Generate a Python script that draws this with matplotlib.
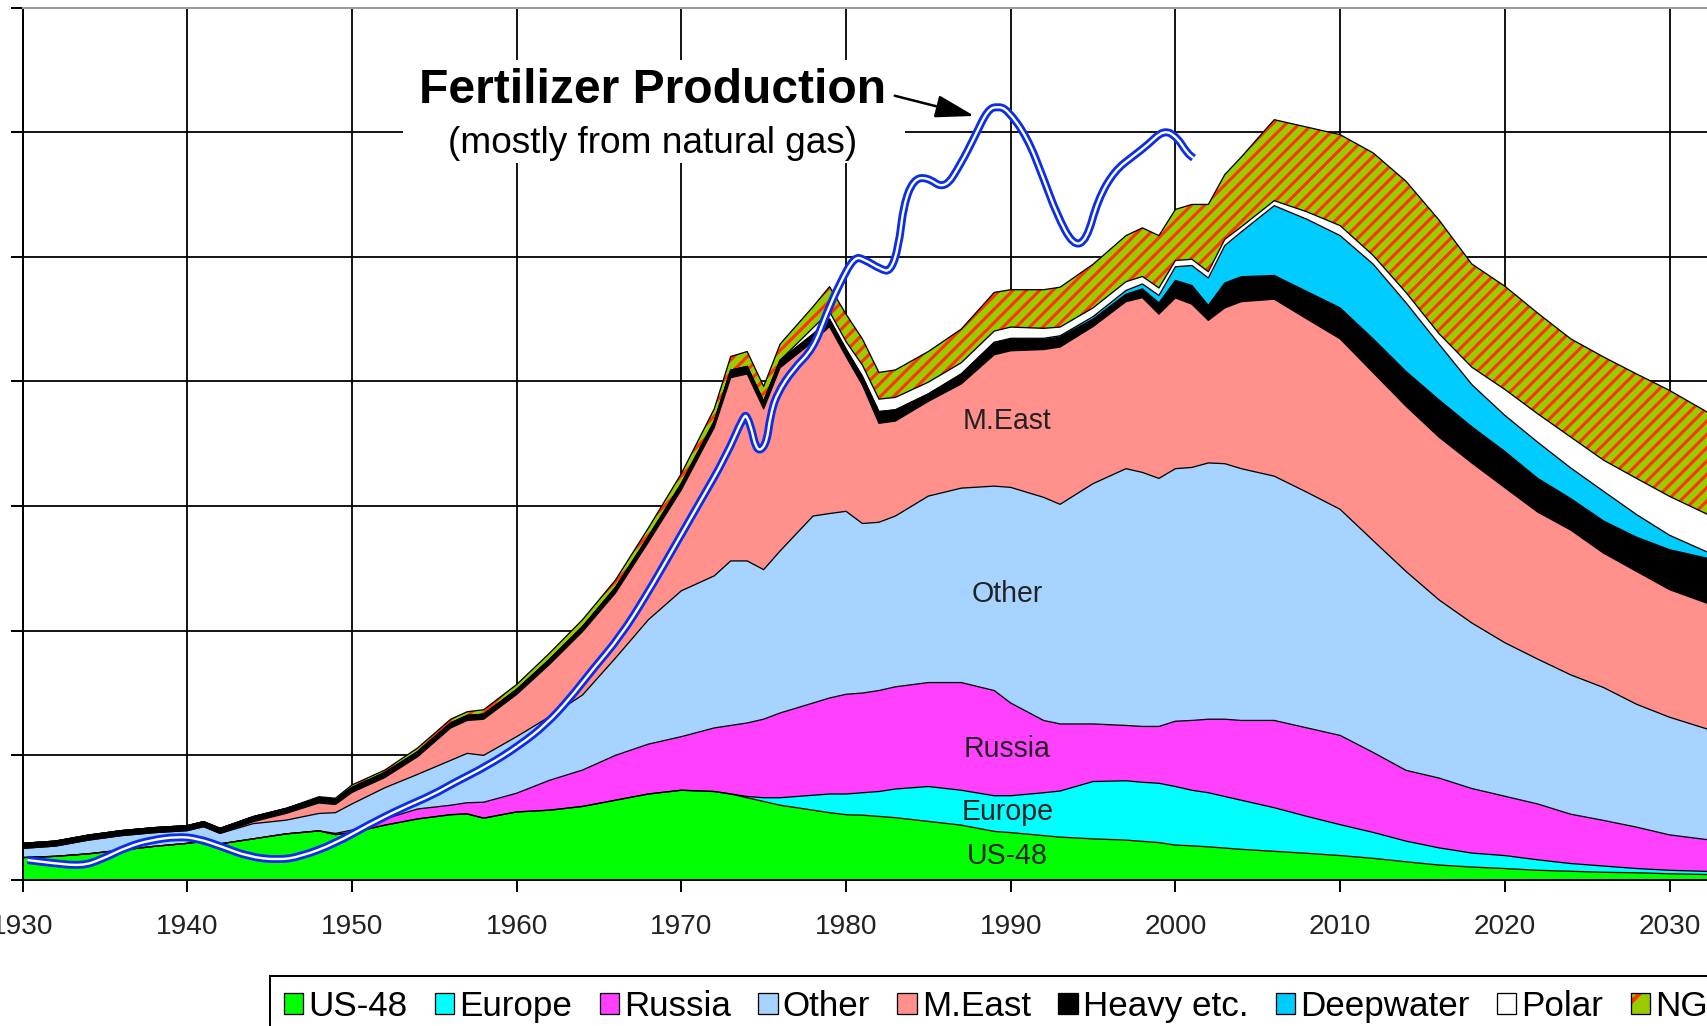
import matplotlib.pyplot as plt
import matplotlib.patches as mpatches
from matplotlib.path import Path
from matplotlib.collections import LineCollection
from matplotlib.transforms import IdentityTransform
from matplotlib.legend_handler import HandlerTuple
import numpy as np

DPI = 100
W, H = 1707, 1026


def px(v):
    # pixel length -> points at the working dpi
    return v * 72.0 / DPI


plt.rcParams['font.family'] = ['Liberation Sans', 'DejaVu Sans']
plt.rcParams['hatch.linewidth'] = px(4.0)

# production by region, Gb/yr
years = [1930, 1932, 1934, 1936, 1938, 1940, 1941, 1942, 1944, 1946,
         1948, 1949, 1950, 1952, 1954, 1956, 1957, 1958, 1960, 1962,
         1964, 1966, 1968, 1970, 1972, 1973, 1974, 1975, 1976, 1978,
         1979, 1980, 1981, 1982, 1983, 1985, 1987, 1989, 1990, 1992,
         1993, 1995, 1997, 1998, 1999, 2000, 2001, 2002, 2003, 2004,
         2006, 2008, 2010, 2012, 2014, 2016, 2018, 2020, 2022, 2024,
         2026, 2028, 2030, 2033]

us48 = [0.90, 0.95, 1.05, 1.20, 1.35, 1.47, 1.55, 1.45, 1.65, 1.85,
        1.97, 1.82, 1.90, 2.20, 2.45, 2.62, 2.65, 2.48, 2.73, 2.80,
        2.95, 3.20, 3.45, 3.60, 3.55, 3.45, 3.30, 3.15, 3.00, 2.80,
        2.70, 2.62, 2.60, 2.55, 2.50, 2.35, 2.20, 1.95, 1.90, 1.78,
        1.72, 1.65, 1.60, 1.55, 1.50, 1.40, 1.37, 1.33, 1.28, 1.23,
        1.15, 1.07, 0.98, 0.87, 0.73, 0.60, 0.52, 0.46, 0.39, 0.35,
        0.31, 0.29, 0.25, 0.21]

europe = [0] * 26 + [
    0.05, 0.15, 0.30, 0.60, 0.75, 0.83, 0.90, 1.00, 1.15, 1.40,
    1.40, 1.43, 1.48, 1.72, 1.85, 2.30, 2.38, 2.37, 2.38, 2.35,
    2.23, 2.17, 2.07, 1.97, 1.75, 1.48, 1.24, 1.04, 0.83, 0.69,
    0.56, 0.52, 0.42, 0.31, 0.25, 0.17, 0.14, 0.12]

russia = [0] * 11 + [
    0.05, 0.10, 0.25, 0.40, 0.38, 0.45, 0.64, 0.75, 1.20, 1.46,
    1.80, 2.00, 2.15, 2.55, 2.75, 2.95, 3.15, 3.40, 3.70, 3.85,
    4.00, 4.00, 4.05, 4.10, 4.17, 4.32, 4.22, 3.72, 2.90, 2.69,
    2.31, 2.22, 2.24, 2.28, 2.62, 2.80, 2.95, 3.10, 3.20, 3.50,
    3.55, 3.58, 3.21, 2.84, 2.80, 2.59, 2.38, 2.24, 1.98, 1.83,
    1.66, 1.42, 1.23]

other = [0.37, 0.41, 0.55, 0.58, 0.55, 0.51, 0.59, 0.42, 0.61, 0.55,
         0.70, 0.83, 1.05, 1.25, 1.39, 1.80, 1.98, 1.88, 2.27, 2.55,
         3.01, 3.90, 4.99, 5.85, 6.10, 6.60, 6.50, 6.00, 6.50, 7.50,
         7.40, 7.34, 6.80, 6.75, 6.85, 7.48, 7.80, 8.20, 8.65, 8.95,
         8.81, 9.64, 10.30, 10.19, 9.95, 10.13, 10.15, 10.28, 10.25, 10.10,
         9.80, 9.45, 9.07, 8.50, 7.98, 7.15, 6.64, 6.16, 5.81, 5.59,
         5.33, 4.93, 4.72, 4.35]

meast = [0] * 8 + [
    0.08, 0.27, 0.42, 0.33, 0.46, 0.41, 0.71, 1.30, 1.32, 1.45,
    1.69, 2.10, 2.54, 2.61, 3.11, 4.05, 5.95, 7.35, 7.50, 6.45,
    7.35, 7.00, 7.50, 6.21, 5.55, 3.97, 3.81, 3.80, 4.18, 5.27,
    5.48, 5.93, 6.31, 6.30, 6.70, 7.01, 6.59, 6.85, 6.55, 5.72,
    6.25, 6.70, 7.10, 6.95, 6.84, 6.74, 6.63, 6.53, 6.42, 6.22,
    5.90, 5.81, 5.39, 5.33, 5.12, 5.02]

heavy = [0.20] * 21 + [
    0.22, 0.22, 0.25, 0.25, 0.30, 0.30, 0.30, 0.30, 0.30, 0.30,
    0.30, 0.35, 0.47, 0.45, 0.30, 0.40, 0.50, 0.45, 0.40, 0.40,
    0.30, 0.30, 0.35, 0.45, 0.70, 0.75, 0.60, 1.00, 1.00, 0.95,
    1.10, 1.24, 1.35, 1.39, 1.49, 1.45, 1.45, 1.35, 1.26, 1.29,
    1.37, 1.60, 1.87]

deepwater = [0] * 38 + [
    0.05, 0.05, 0.05, 0.10, 0.15, 0.20, 0.30, 0.55, 0.80, 1.10,
    1.50, 1.80, 2.80, 2.90, 2.90, 3.00, 2.76, 2.24, 1.69, 1.45,
    1.45, 1.23, 1.19, 0.91, 0.58, 0.15]

polar = [0] * 29 + [
    0.25, 0.30, 0.30, 0.45, 0.50, 0.50, 0.47, 0.45, 0.45, 0.45,
    0.40, 0.35, 0.35, 0.35, 0.30, 0.30, 0.25, 0.25, 0.25, 0.25,
    0.20, 0.20, 0.30, 0.40, 0.35, 0.41, 0.42, 0.70, 1.04, 1.14,
    1.24, 1.25, 1.45, 1.56, 1.50]

ngl = [0] * 10 + [
    0.05, 0.05, 0.10, 0.10, 0.15, 0.15, 0.15, 0.18, 0.20, 0.25,
    0.28, 0.30, 0.35, 0.40, 0.50, 0.55, 0.60, 0.60, 0.65, 0.85,
    1.00, 1.10, 1.05, 1.07, 1.10, 1.23, 1.35, 1.55, 1.50, 1.55,
    1.60, 1.75, 1.85, 1.95, 2.10, 2.05, 2.20, 2.70, 2.60, 2.80,
    3.25, 3.40, 3.65, 4.11, 4.46, 4.56, 4.14, 4.14, 4.04, 3.94,
    4.14, 4.19, 4.25, 4.05]

# fertilizer production curve (same vertical scale)
fert_years = [1930.3, 1931.9, 1933.6, 1934.7, 1936.4, 1937.8, 1939.4, 1940.6, 1942.1, 1943.7,
              1945.5, 1946.9, 1949.0, 1951.0, 1953.0, 1954.9, 1956.2, 1958.2, 1960.2, 1961.8,
              1963.2, 1964.6, 1966.3, 1967.9, 1969.5, 1971.1, 1972.7, 1973.8, 1974.0, 1974.3,
              1974.5, 1974.8, 1975.2, 1975.4, 1975.8, 1976.8, 1978.0, 1978.8, 1979.6, 1980.5,
              1981.1, 1982.1, 1982.7, 1983.2, 1983.5, 1984.1, 1984.9, 1986.0, 1987.0, 1987.8,
              1988.6, 1989.2, 1989.8, 1991.0, 1992.0, 1992.8, 1993.8, 1994.6, 1995.3, 1996.3,
              1997.5, 1998.3, 1999.3, 2000.1, 2000.7, 2001.1]
fert_vals = [0.80, 0.67, 0.57, 0.80, 1.34, 1.60, 1.74, 1.67, 1.34, 0.94,
             0.80, 0.94, 1.47, 2.21, 2.87, 3.41, 3.90, 4.57, 5.41, 6.25,
             7.25, 8.43, 9.77, 11.44, 13.28, 15.13, 16.97, 18.64, 18.60, 18.00,
             17.40, 17.20, 17.60, 18.60, 19.50, 20.50, 21.30, 22.70, 23.90, 25.00,
             24.90, 24.50, 24.40, 25.40, 27.10, 28.10, 28.20, 27.70, 28.76, 29.80,
             30.90, 31.04, 30.90, 29.80, 28.13, 26.70, 25.44, 25.65, 27.30, 28.45,
             29.07, 29.48, 30.10, 29.80, 29.17, 28.96]

names = ['US-48', 'Europe', 'Russia', 'Other', 'M.East',
         'Heavy etc.', 'Deepwater', 'Polar', 'NGL']
layers = [us48, europe, russia, other, meast, heavy, deepwater, polar, ngl]
colors = ['#00FF00', '#00FFFF', '#FF40FF', '#A6D3FF', '#FF908C',
          '#000000', '#00CCFF', '#FFFFFF', '#99CC00']
STRIPE = '#FF3300'
FERT_BLUE = '#0C2DE8'


def smooth_path(xs, ys):
    # quadratic bezier through the midpoints, using the points as controls
    pts = np.column_stack([xs, ys])
    mids = (pts[:-1] + pts[1:]) / 2
    verts = [pts[0], mids[0]]
    codes = [Path.MOVETO, Path.LINETO]
    for i in range(1, len(pts) - 1):
        verts += [pts[i], mids[i]]
        codes += [Path.CURVE3, Path.CURVE3]
    verts.append(pts[-1])
    codes.append(Path.LINETO)
    return Path(verts, codes)


fig = plt.figure(figsize=(W / DPI, H / DPI), dpi=DPI)
ax = fig.add_axes([22.5 / W, 146 / H, 1 - 22.5 / W, 872.5 / H])

tops = np.cumsum(np.array(layers, dtype=float), axis=0)
base = np.zeros(len(years))
ngl_band = None
for name, vals, c in zip(names, tops, colors):
    band = ax.fill_between(years, base, vals, facecolor=c, linewidth=0, zorder=2)
    if name == 'NGL':
        ngl_band = band
    base = vals

# diagonal red stripes across the NGL band (pixel spaced, clipped to the band)
step = 13.3
segs = [[(x0, 0), (x0 + H, H)] for x0 in np.arange(-H, W + step, step)]
stripes = LineCollection(segs, colors=STRIPE, linewidths=px(3.1),
                         transform=IdentityTransform(), zorder=2.2)
ax.add_collection(stripes, autolim=False)
stripes.set_clip_path(ngl_band.get_paths()[0], ax.transData)

for vals in tops:
    ax.plot(years, vals, color='black', lw=px(1.3), zorder=3)

# region labels inside the bands
for txt, y in zip(['M.East', 'Other', 'Russia', 'Europe', 'US-48'],
                  [18.4, 11.46, 5.25, 2.73, 0.98]):
    ax.text(1989.8, y, txt, ha='center', va='center', fontsize=px(28.5),
            color='#222222', zorder=4)

# annotation block
ax.add_patch(mpatches.Rectangle((1953.1, 28.76), 30.5, 4.13, facecolor='white',
                                edgecolor='none', zorder=5))
ax.text(1968.28, 31.69, 'Fertilizer Production', fontsize=px(48),
        fontweight='bold', ha='center', va='center', zorder=6)
ax.text(1968.28, 29.53, '(mostly from natural gas)', fontsize=px(37),
        ha='center', va='center', zorder=6)
ax.annotate('', xy=(1987.79, 30.65), xytext=(1982.96, 31.46),
            arrowprops=dict(arrowstyle='-|>,head_length=1.2,head_width=0.35',
                            color='black', lw=px(2.5), mutation_scale=20,
                            shrinkA=0, shrinkB=0), zorder=6)

fert_path = smooth_path(fert_years, fert_vals)
ax.add_patch(mpatches.PathPatch(fert_path, facecolor='none', edgecolor=FERT_BLUE,
                                lw=px(8), joinstyle='round', capstyle='butt',
                                zorder=7))
ax.add_patch(mpatches.PathPatch(fert_path, facecolor='none', edgecolor='white',
                                lw=px(2.4), joinstyle='round', capstyle='butt',
                                zorder=8))

ax.set_xlim(1930, 1930 + (W - 22.5) / 16.47)
ax.set_ylim(0, 35)
ax.set_xticks(range(1930, 2031, 10))
ax.set_yticks(range(0, 36, 5))
ax.tick_params(axis='both', direction='out', length=px(12), width=px(2),
               color='black')
ax.tick_params(axis='x', labelsize=px(28), labelcolor='#222222', pad=px(22))
ax.tick_params(axis='y', labelleft=False)
ax.grid(True, color='black', lw=px(1.8))
ax.set_axisbelow(True)
ax.spines['right'].set_visible(False)
ax.spines['top'].set_color('#9a9a9a')
ax.spines['top'].set_linewidth(px(2))
ax.spines['left'].set_linewidth(px(2))
ax.spines['bottom'].set_linewidth(px(2))

handles = []
for name, c in zip(names, colors):
    if name == 'NGL':
        handles.append((mpatches.Patch(facecolor=c, edgecolor=STRIPE, hatch='/',
                                       linewidth=0),
                        mpatches.Patch(facecolor='none', edgecolor='black',
                                       linewidth=px(1.3))))
    else:
        handles.append(mpatches.Patch(facecolor=c, edgecolor='black',
                                      linewidth=px(1.3)))
leg = fig.legend(handles, names, loc='upper left',
                 bbox_to_anchor=(270 / W, 1 - 976 / H), ncol=9,
                 fontsize=px(35), frameon=True, fancybox=False,
                 edgecolor='black', framealpha=1, handlelength=0.55,
                 handleheight=0.55, handletextpad=0.15, columnspacing=0.78,
                 borderpad=0.4, borderaxespad=0,
                 handler_map={tuple: HandlerTuple(ndivide=1)})
leg.get_frame().set_linewidth(px(2))

fig.savefig('out.png', dpi=DPI)
